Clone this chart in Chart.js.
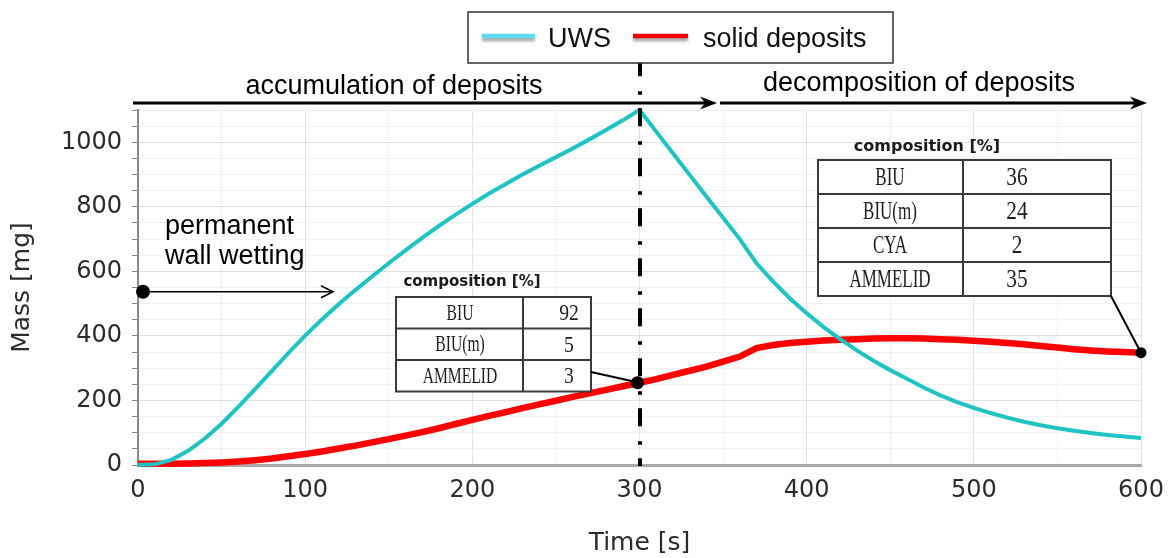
<!DOCTYPE html>
<html>
<head>
<meta charset="utf-8">
<title>UWS and solid deposit mass</title>
<script src="https://cdn.jsdelivr.net/npm/chart.js@4.4.1/dist/chart.umd.min.js"></script>
<style>
  html, body { margin: 0; padding: 0; background: #ffffff; }
  #wrap { width: 1168px; height: 558px; }
</style>
</head>
<body>
<div id="wrap"><canvas id="massChart" width="1168" height="558"></canvas></div>
<script>
// ---- data -------------------------------------------------------------
const timeS = [
  0, 10, 20, 30, 40, 50, 60, 70, 80, 90,
  100, 110, 120, 130, 140, 150, 160, 170, 180, 190,
  200, 210, 220, 230, 240, 250, 260, 270, 280, 290,
  300, 310, 320, 330, 340, 350, 360, 370, 380, 390,
  400, 410, 420, 430, 440, 450, 460, 470, 480, 490,
  500, 510, 520, 530, 540, 550, 560, 570, 580, 590, 600
];

// UWS mass [mg]
const uwsMass = [
  0, 2, 16, 44, 82, 128, 180, 235, 291, 347,
  401, 451, 498, 542, 584, 625, 665, 704, 741, 776,
  809, 841, 871, 900, 927, 954, 981, 1009, 1038, 1068,
  1100, 1033, 966, 899, 832, 766, 700, 625, 568, 516,
  470, 428, 390, 355, 323, 294, 267, 240, 216, 195,
  177, 161, 147, 134, 123, 114, 106, 99, 93, 88, 84
];

// solid deposit mass [mg]
const depositMass = [
  4, 4, 4, 5, 6, 8, 11, 15, 20, 27,
  34, 42, 51, 60, 70, 80, 91, 102, 114, 127,
  140, 152, 164, 176, 188, 199, 211, 222, 233, 244,
  255, 266, 279, 292, 305, 320, 336, 362, 372, 378,
  382, 386, 388, 390, 392, 393, 393, 392, 390, 388,
  385, 382, 378, 374, 369, 364, 359, 355, 352, 350, 348
];

const seriesLabels = ['UWS', 'solid deposits'];

const xTicks = [0, 100, 200, 300, 400, 500, 600];
const yTicks = [0, 200, 400, 600, 800, 1000];

// end of injection: accumulation -> decomposition
const splitTime = 300;
// start of permanent wall wetting
const wettingTime = 3;
const wettingMass = 537;

// deposit composition [%]
const comp300Names = ['BIU', 'BIU(m)', 'AMMELID'];
const comp300Values = ['92', '5', '3'];
const comp600Names = ['BIU', 'BIU(m)', 'CYA', 'AMMELID'];
const comp600Values = ['36', '24', '2', '35'];

const phaseLabels = ['accumulation of deposits', 'decomposition of deposits'];
const wettingLabel = ['permanent', 'wall wetting'];

// ---- styles -----------------------------------------------------------
const UWS_COLOR = '#1fc3c3';
const DEP_COLOR = '#ff0000';
const AXIS_FONT = 'DejaVu Sans';
const NOTE_FONT = 'Liberation Sans';
const CELL_FONT = 'Liberation Serif';

function points(xs, ys) {
  return xs.map((t, i) => ({ x: t, y: ys[i] }));
}

function condensedText(ctx, text, cx, cy, font, sx) {
  ctx.save();
  ctx.translate(cx, cy);
  ctx.scale(sx, 1);
  ctx.font = font;
  ctx.textAlign = 'center';
  ctx.textBaseline = 'middle';
  ctx.fillText(text, 0, 0);
  ctx.restore();
}

function drawTable(ctx, tb, names, values) {
  const n = names.length;
  const bottom = tb.top + tb.rowH * n;
  ctx.save();
  ctx.fillStyle = '#ffffff';
  ctx.fillRect(tb.left, tb.top, tb.right - tb.left, bottom - tb.top);
  ctx.strokeStyle = '#3a3a3a';
  ctx.lineWidth = 2;
  ctx.strokeRect(tb.left, tb.top, tb.right - tb.left, bottom - tb.top);
  ctx.beginPath();
  ctx.moveTo(tb.mid, tb.top); ctx.lineTo(tb.mid, bottom);
  for (let i = 1; i < n; i++) {
    const yy = tb.top + tb.rowH * i;
    ctx.moveTo(tb.left, yy); ctx.lineTo(tb.right, yy);
  }
  ctx.stroke();

  ctx.fillStyle = '#1e1e1e';
  for (let i = 0; i < n; i++) {
    const cy = tb.top + tb.rowH * (i + 0.5) + 1;
    condensedText(ctx, names[i], tb.labelX, cy, tb.size + 'px "' + CELL_FONT + '"', 0.68);
    condensedText(ctx, values[i], tb.valX, cy, (tb.size + 1) + 'px "' + CELL_FONT + '"', 0.82);
  }

  ctx.font = 'bold ' + tb.headSize + 'px "' + AXIS_FONT + '"';
  ctx.textAlign = 'center';
  ctx.textBaseline = 'middle';
  ctx.fillStyle = '#1a1a1a';
  ctx.fillText('composition [%]', tb.headX, tb.headY);
  ctx.restore();
}

function arrowHead(ctx, tipX, tipY, len, half, notch) {
  ctx.beginPath();
  ctx.moveTo(tipX, tipY);
  ctx.lineTo(tipX - len, tipY - half);
  ctx.lineTo(tipX - len + notch, tipY);
  ctx.lineTo(tipX - len, tipY + half);
  ctx.closePath();
  ctx.fill();
}

function dot(ctx, px, py, r) {
  ctx.beginPath();
  ctx.arc(px, py, r, 0, Math.PI * 2);
  ctx.fill();
}

const table300 = { left: 396, mid: 523, right: 591, top: 297, rowH: 31.5, size: 23,
                   labelX: 460, valX: 569, headX: 472, headY: 282, headSize: 15 };
const table600 = { left: 818, mid: 963, right: 1111, top: 160, rowH: 34, size: 25,
                   labelX: 890, valX: 1017, headX: 927, headY: 147, headSize: 16 };

const annotations = {
  id: 'annotations',
  afterDatasetsDraw(chart) {
    const { ctx, scales: { x, y } } = chart;
    const depAt = t => depositMass[timeS.indexOf(t)];

    // dash-dot separator at the end of injection
    const sx = Math.round(x.getPixelForValue(splitTime));
    ctx.save();
    ctx.strokeStyle = '#000000';
    ctx.lineWidth = 4;
    ctx.setLineDash([18, 15, 3.5, 13.5]);
    ctx.lineDashOffset = 4.7;
    ctx.beginPath();
    ctx.moveTo(sx, 63);
    ctx.lineTo(sx, y.getPixelForValue(0) + 1);
    ctx.stroke();
    ctx.restore();

    // phase arrows above the plot
    ctx.save();
    ctx.strokeStyle = '#000000';
    ctx.fillStyle = '#000000';
    ctx.lineWidth = 3;
    const ay = 103;
    ctx.beginPath();
    ctx.moveTo(133, ay); ctx.lineTo(710, ay);
    ctx.moveTo(720, ay); ctx.lineTo(1140, ay);
    ctx.stroke();
    arrowHead(ctx, 717, ay, 17, 6.5, 5);
    arrowHead(ctx, 1147, ay, 17, 6.5, 5);

    ctx.font = '27px "' + NOTE_FONT + '"';
    ctx.textAlign = 'center';
    ctx.textBaseline = 'alphabetic';
    ctx.fillText(phaseLabels[0], 394, 94);
    ctx.fillText(phaseLabels[1], 919, 91);

    // permanent wall wetting
    ctx.textAlign = 'left';
    ctx.fillText(wettingLabel[0], 165, 234);
    ctx.fillText(wettingLabel[1], 165, 264);
    const wx = x.getPixelForValue(wettingTime);
    const wy = y.getPixelForValue(wettingMass);
    ctx.lineWidth = 1.6;
    ctx.beginPath();
    ctx.moveTo(wx, wy); ctx.lineTo(333, wy);
    ctx.moveTo(321, wy - 6); ctx.lineTo(333, wy); ctx.lineTo(321, wy + 6);
    ctx.stroke();
    dot(ctx, wx, wy, 7);
    ctx.restore();

    // composition tables with leader lines
    drawTable(ctx, table300, comp300Names, comp300Values);
    drawTable(ctx, table600, comp600Names, comp600Values);

    const p300 = { x: x.getPixelForValue(splitTime), y: y.getPixelForValue(depAt(splitTime)) };
    const p600 = { x: x.getPixelForValue(600), y: y.getPixelForValue(depAt(600)) };
    ctx.save();
    ctx.strokeStyle = '#000000';
    ctx.fillStyle = '#000000';
    ctx.lineWidth = 2;
    ctx.beginPath();
    ctx.moveTo(table300.right, 372); ctx.lineTo(p300.x, p300.y);
    ctx.moveTo(table600.right, table600.top + table600.rowH * 4); ctx.lineTo(p600.x, p600.y);
    ctx.stroke();
    dot(ctx, p300.x - 2, p300.y, 6.5);
    dot(ctx, p600.x, p600.y, 5.5);
    ctx.restore();
  },
  afterDraw(chart) {
    // legend box
    const { ctx } = chart;
    const ds = chart.data.datasets;
    ctx.save();
    ctx.fillStyle = '#ffffff';
    ctx.fillRect(468, 12, 425, 51);
    ctx.strokeStyle = '#333333';
    ctx.lineWidth = 1.5;
    ctx.strokeRect(468, 12, 425, 51);

    const entries = [
      { x0: 482, x1: 535, tx: 548, color: '#5fdcf0', label: ds[0].label },
      { x0: 633, x1: 688, tx: 703, color: '#ee0000', label: ds[1].label }
    ];
    entries.forEach(e => {
      ctx.save();
      ctx.shadowColor = 'rgba(0,0,0,0.35)';
      ctx.shadowBlur = 3;
      ctx.shadowOffsetY = 3;
      ctx.strokeStyle = e.color;
      ctx.lineWidth = 4.5;
      ctx.beginPath();
      ctx.moveTo(e.x0, 36); ctx.lineTo(e.x1, 36);
      ctx.stroke();
      ctx.restore();
      ctx.fillStyle = '#111111';
      ctx.font = '27px "' + NOTE_FONT + '"';
      ctx.textAlign = 'left';
      ctx.textBaseline = 'alphabetic';
      ctx.fillText(e.label, e.tx, 46.5);
    });
    ctx.restore();
  }
};

new Chart(document.getElementById('massChart'), {
  type: 'line',
  data: {
    datasets: [
      {
        label: seriesLabels[0],
        data: points(timeS, uwsMass),
        borderColor: UWS_COLOR,
        borderWidth: 4,
        pointRadius: 0,
        tension: 0,
        clip: 8
      },
      {
        label: seriesLabels[1],
        data: points(timeS, depositMass),
        borderColor: DEP_COLOR,
        borderWidth: 6.5,
        pointRadius: 0,
        tension: 0,
        clip: 8
      }
    ]
  },
  options: {
    responsive: false,
    animation: false,
    devicePixelRatio: 1,
    layout: { padding: { top: 110, right: 27, left: 0, bottom: 0 } },
    plugins: { legend: { display: false }, tooltip: { enabled: false } },
    scales: {
      x: {
        type: 'linear',
        min: 0,
        max: 600,
        afterFit(s) { s.height = 93; s.paddingLeft = 0; s.paddingRight = 0; },
        ticks: {
          stepSize: 50,
          autoSkip: false,
          maxRotation: 0,
          padding: 11,
          color: '#2b2b2b',
          font: { family: AXIS_FONT, size: 24 },
          callback: v => xTicks.includes(v) ? String(v) : ''
        },
        grid: {
          drawTicks: false,
          color: c => xTicks.includes(c.tick.value) ? '#e2e2e2' : '#f2f2f2',
          lineWidth: 1
        },
        border: { color: '#a9a9a9', width: 3 },
        title: {
          display: true,
          text: 'Time [s]',
          color: '#2b2b2b',
          font: { family: AXIS_FONT, size: 25 },
          padding: { top: 0, bottom: 0 }
        }
      },
      y: {
        min: 0,
        max: 1100,
        afterFit(s) { s.width = 138; s.paddingTop = 0; s.paddingBottom = 0; },
        ticks: {
          stepSize: 50,
          autoSkip: false,
          padding: 10,
          color: '#2b2b2b',
          font: { family: AXIS_FONT, size: 24 },
          callback: v => yTicks.includes(v) ? String(v) : ''
        },
        grid: {
          tickLength: 6,
          tickColor: '#8a8a8a',
          color: c => yTicks.includes(c.tick.value) ? '#e2e2e2' : '#f2f2f2',
          lineWidth: 1
        },
        border: { color: '#8a8a8a', width: 2 },
        title: {
          display: true,
          text: 'Mass [mg]',
          color: '#2b2b2b',
          font: { family: AXIS_FONT, size: 25 },
          padding: { top: 7, bottom: 0 }
        }
      }
    }
  },
  plugins: [annotations]
});
</script>
</body>
</html>
